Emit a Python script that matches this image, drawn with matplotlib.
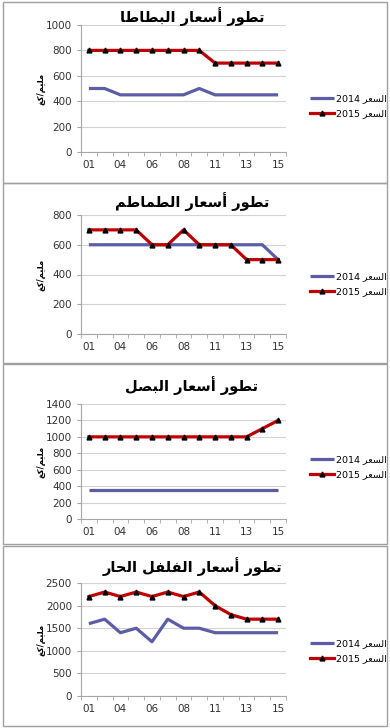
import numpy as np
import matplotlib
matplotlib.use("Agg")
import matplotlib.pyplot as plt
from matplotlib.patches import Rectangle

# Data
days = ["01", "02", "04", "05", "06", "07", "08", "10", "11", "12", "13", "14", "15"]

potato_2014 = [500, 500, 450, 450, 450, 450, 450, 500, 450, 450, 450, 450, 450]
potato_2015 = [800, 800, 800, 800, 800, 800, 800, 800, 700, 700, 700, 700, 700]

tomato_2014 = [600, 600, 600, 600, 600, 600, 600, 600, 600, 600, 600, 600, 500]
tomato_2015 = [700, 700, 700, 700, 600, 600, 700, 600, 600, 600, 500, 500, 500]

onion_2014 = [350, 350, 350, 350, 350, 350, 350, 350, 350, 350, 350, 350, 350]
onion_2015 = [1000, 1000, 1000, 1000, 1000, 1000, 1000, 1000, 1000, 1000, 1000, 1100, 1200]

pepper_2014 = [1600, 1700, 1400, 1500, 1200, 1700, 1500, 1500, 1400, 1400, 1400, 1400, 1400]
pepper_2015 = [2200, 2300, 2200, 2300, 2200, 2300, 2200, 2300, 2000, 1800, 1700, 1700, 1700]

titles = ["تطور أسعار البطاطا", "تطور أسعار الطماطم", "تطور أسعار البصل", "تطور أسعار الفلفل الحار"]
ylabel = "مليم/كغ"
series_name = "السعر"

# arabic letter forms: isolated, final, initial, medial
FORMS = {
    "ا": ("\uFE8D", "\uFE8E", None, None),
    "أ": ("\uFE83", "\uFE84", None, None),
    "ب": ("\uFE8F", "\uFE90", "\uFE91", "\uFE92"),
    "ت": ("\uFE95", "\uFE96", "\uFE97", "\uFE98"),
    "ح": ("\uFEA1", "\uFEA2", "\uFEA3", "\uFEA4"),
    "ر": ("\uFEAD", "\uFEAE", None, None),
    "س": ("\uFEB1", "\uFEB2", "\uFEB3", "\uFEB4"),
    "ص": ("\uFEB9", "\uFEBA", "\uFEBB", "\uFEBC"),
    "ط": ("\uFEC1", "\uFEC2", "\uFEC3", "\uFEC4"),
    "ع": ("\uFEC9", "\uFECA", "\uFECB", "\uFECC"),
    "غ": ("\uFECD", "\uFECE", "\uFECF", "\uFED0"),
    "ف": ("\uFED1", "\uFED2", "\uFED3", "\uFED4"),
    "ك": ("\uFED9", "\uFEDA", "\uFEDB", "\uFEDC"),
    "ل": ("\uFEDD", "\uFEDE", "\uFEDF", "\uFEE0"),
    "م": ("\uFEE1", "\uFEE2", "\uFEE3", "\uFEE4"),
    "و": ("\uFEED", "\uFEEE", None, None),
    "ي": ("\uFEF1", "\uFEF2", "\uFEF3", "\uFEF4"),
}


def ar(text):
    out = []
    for i, c in enumerate(text):
        if c not in FORMS:
            out.append(c)
            continue
        prev = text[i - 1] if i > 0 else None
        nxt = text[i + 1] if i < len(text) - 1 else None
        jp = prev in FORMS and FORMS[prev][2] is not None
        jn = nxt in FORMS and FORMS[c][2] is not None
        iso, fin, ini, med = FORMS[c]
        if jp and jn:
            out.append(med)
        elif jp:
            out.append(fin)
        elif jn:
            out.append(ini)
        else:
            out.append(iso)
    return "".join(out)[::-1]


W, H = 390, 728
fig = plt.figure(figsize=(W / 100, H / 100), dpi=100)
fig.patch.set_facecolor("white")


def frac(left, top, right, bottom):
    return [left / W, 1 - bottom / H, (right - left) / W, (bottom - top) / H]


panels = [
    # (data14, data15, ymax, ystep, panel top, panel bottom, plot top, plot bottom, title y, legend y)
    (potato_2014, potato_2015, 1000, 200, 2, 183, 25, 152, 17, 106),
    (tomato_2014, tomato_2015, 800, 200, 183, 363, 215, 334, 202, 284),
    (onion_2014, onion_2015, 1400, 200, 364, 544, 404, 519, 386, 467),
    (pepper_2014, pepper_2015, 2500, 500, 546, 726, 583, 696, 567, 651),
]

x = np.arange(len(days))
for k, (d14, d15, ymax, ystep, ptop, pbot, atop, abot, ty, ly) in enumerate(panels):
    fig.add_artist(Rectangle((3 / W, 1 - pbot / H), 384 / W, (pbot - ptop) / H,
                             transform=fig.transFigure, fill=False,
                             edgecolor="#A0A0A0", lw=1))
    ax = fig.add_axes(frac(81, atop, 286, abot))
    l1, = ax.plot(x, d14, color="#5B5EA6", lw=2.3, solid_capstyle="butt",
                  label="2014 " + ar(series_name))
    l2, = ax.plot(x, d15, color="#C00000", lw=2.3, marker="^", ms=3.5,
                  mfc="black", mec="black", label="2015 " + ar(series_name))
    ax.set_xlim(-0.5, len(days) - 0.5)
    ax.set_ylim(0, ymax)
    ax.set_yticks(np.arange(0, ymax + 1, ystep))
    ax.set_xticks(x[::2])
    ax.set_xticklabels(days[::2])
    ax.set_xticks(np.arange(-0.5, len(days)), minor=True)
    ax.tick_params(axis="x", which="major", length=0, labelsize=7.5,
                   colors="#333333", pad=6)
    ax.tick_params(axis="x", which="minor", length=3, color="#A6A6A6")
    ax.tick_params(axis="y", length=3, color="#A6A6A6", labelsize=7.5,
                   labelcolor="#333333")
    ax.grid(axis="y", color="#D4D4D4", lw=0.8)
    ax.set_axisbelow(True)
    for s in ["top", "right"]:
        ax.spines[s].set_visible(False)
    for s in ["left", "bottom"]:
        ax.spines[s].set_color("#A6A6A6")
    fig.text(192 / W, 1 - ty / H, ar(titles[k]), ha="center", va="center",
             fontsize=10.5, fontweight="bold", color="black")
    fig.text(41 / W, 1 - (atop + abot) / 2 / H, ar(ylabel), rotation=90,
             ha="center", va="center", fontsize=6, fontweight="bold")
    fig.legend(handles=[l1, l2], loc="center left",
               bbox_to_anchor=(310 / W, 1 - ly / H), frameon=False,
               fontsize=6.8, handlelength=2.5, handletextpad=0.3,
               numpoints=1, labelspacing=0.6, borderaxespad=0, borderpad=0)

fig.savefig("out.png", dpi=100)
